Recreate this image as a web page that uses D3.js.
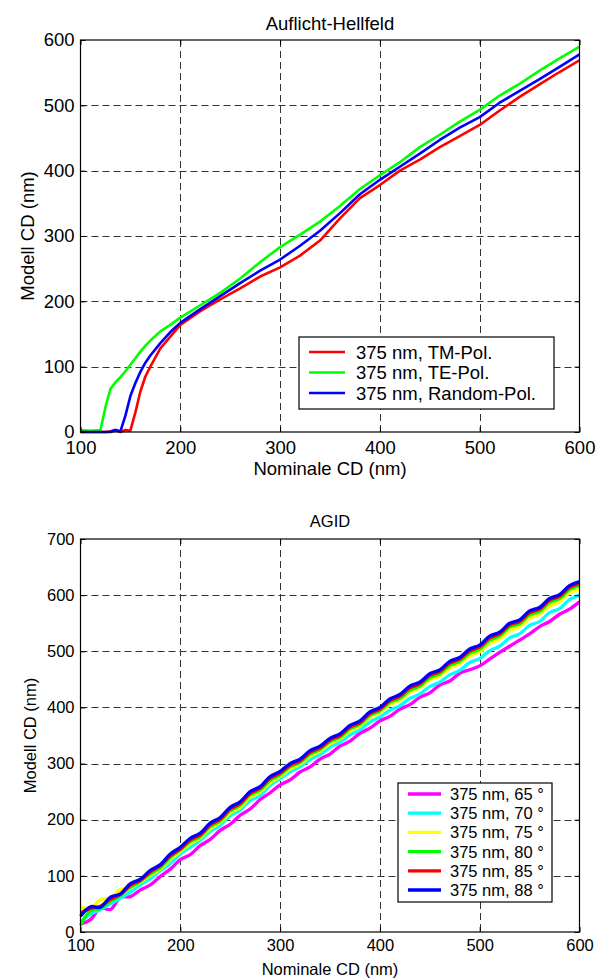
<!DOCTYPE html>
<html>
<head>
<meta charset="utf-8">
<style>
  body { margin: 0; background: #fff; }
  svg text { font-family: "Liberation Sans", Arial, sans-serif; fill: #000; }
</style>
</head>
<body>
<svg id="mysvg"></svg>
<script src="https://cdn.jsdelivr.net/npm/d3@7"></script>
<script>

// ---- data: top chart (Auflicht-Hellfeld) ----
var topX = [100,110,120,125,130,135,140,145,150,155,160,165,170,180,190,200,220,240,260,280,300,320,340,360,380,400,420,440,460,480,500,520,540,560,580,600];
var topTM = [0,0,0,0,1,3,0,3,2,30,62,85,100,128,146,164,185,203,220,238,252,270,293,327,358,378,400,417,436,453,470,492,513,532,551,569];
var topTE = [3,2,3,38,66,76,84,93,103,113,123,132,140,154,164,175,194,213,235,260,283,302,322,346,372,393,413,436,455,475,493,515,533,553,572,590];
var topRandom = [0,0,0,0,0,3,1,25,55,75,92,106,117,136,153,167,188,208,228,247,264,285,308,335,364,386,406,426,447,466,482,504,522,540,559,578];
var topLabels = ["375 nm, TM-Pol.", "375 nm, TE-Pol.", "375 nm, Random-Pol."];
var topColors = ["#ff0000", "#00ff00", "#0000ff"];

// ---- data: bottom chart (AGID), one value every 10 nm from 100 to 600 ----
var agidX = [100,110,120,130,140,150,160,170,180,190,200,210,220,230,240,250,260,270,280,290,300,310,320,330,340,350,360,370,380,390,400,410,420,430,440,450,460,470,480,490,500,510,520,530,540,550,560,570,580,590,600];
var agid65 = [14,22,43,40,62,63,75,84,99,112,129,138,154,165,181,192,208,219,236,248,262,271,285,294,308,317,331,340,354,363,376,384,397,405,418,426,440,447,461,467,474,486,498,509,520,531,544,553,566,575,588];
var agid70 = [18,32,40,50,60,71,84,95,109,122,139,151,163,179,190,207,217,234,243,261,273,285,294,307,316,329,338,351,360,374,383,395,403,416,424,437,445,458,466,480,487,501,509,524,531,546,553,569,576,592,600];
var agid75 = [45,42,58,60,76,79,89,101,112,129,143,157,167,184,195,212,222,240,249,266,277,290,299,313,322,335,344,358,367,382,391,405,413,427,435,449,456,470,478,492,499,514,522,537,544,559,566,581,588,604,611];
var agid80 = [12,38,42,55,65,80,90,104,115,133,146,161,170,188,198,216,226,244,253,270,280,294,302,317,325,339,347,362,370,386,394,409,416,431,438,453,460,475,482,497,504,520,527,543,549,565,571,587,594,610,617];
var agid85 = [34,42,46,58,67,83,92,107,118,136,148,164,173,191,201,219,229,247,256,274,283,297,305,320,328,342,350,365,373,389,397,412,420,435,442,457,464,479,486,501,508,524,531,547,553,569,575,591,598,614,621];
var agid88 = [28,45,44,62,68,86,94,110,120,139,151,167,176,194,204,222,232,250,259,277,286,300,308,323,331,345,353,368,376,392,400,415,423,438,445,460,467,482,489,504,511,527,534,550,556,572,578,594,601,617,624];
var agidLabels = ["375 nm, 65 °", "375 nm, 70 °", "375 nm, 75 °", "375 nm, 80 °", "375 nm, 85 °", "375 nm, 88 °"];
var agidColors = ["#ff00ff", "#00ffff", "#ffff00", "#00ff00", "#ff0000", "#0000ff"];

var xTicks = [100,200,300,400,500,600];
var topYTicks = [0,100,200,300,400,500,600];
var agidYTicks = [0,100,200,300,400,500,600,700];

var W = 604, H = 979;
var svg = d3.select("#mysvg").attr("width", W).attr("height", H);

function drawPanel(opt) {
  var x = d3.scaleLinear().domain([100, 600]).range([opt.left, opt.right]);
  var y = d3.scaleLinear().domain(opt.yDomain).range([opt.bottom, opt.top]);
  var g = svg.append("g");

  // dashed grid
  g.append("g").selectAll("line").data(xTicks.slice(1, -1)).enter().append("line")
    .attr("x1", function(d){ return Math.round(x(d)) + 0.5; })
    .attr("x2", function(d){ return Math.round(x(d)) + 0.5; })
    .attr("y1", opt.top).attr("y2", opt.bottom)
    .attr("stroke", "#333").attr("stroke-dasharray", "7,4");
  g.append("g").selectAll("line").data(opt.yTicks.slice(1, -1)).enter().append("line")
    .attr("y1", function(d){ return Math.round(y(d)) + 0.5; })
    .attr("y2", function(d){ return Math.round(y(d)) + 0.5; })
    .attr("x1", opt.left).attr("x2", opt.right)
    .attr("stroke", "#333").attr("stroke-dasharray", "7,4");

  // curves
  var line = d3.line()
    .x(function(d){ return x(d[0]); })
    .y(function(d){ return y(d[1]); })
    .curve(opt.curve);
  opt.series.forEach(function(s, i) {
    g.append("path")
      .datum(opt.xs.map(function(v, j){ return [v, s[j]]; }))
      .attr("fill", "none")
      .attr("stroke", opt.colors[i])
      .attr("stroke-width", opt.lineWidth)
      .attr("stroke-linejoin", "round")
      .attr("d", line);
  });

  // axes, ticks pointing inwards on all four sides
  var fs = opt.fontSize + "px";
  g.append("g").attr("transform", "translate(0," + opt.bottom + ")")
    .call(d3.axisBottom(x).tickValues(xTicks).tickSize(-5).tickSizeOuter(0).tickPadding(opt.xPad))
    .call(function(a){ a.select(".domain").remove(); a.selectAll("text").style("font-size", fs); });
  g.append("g").attr("transform", "translate(0," + opt.top + ")")
    .call(d3.axisTop(x).tickValues(xTicks).tickSize(-5).tickSizeOuter(0).tickFormat(""))
    .call(function(a){ a.select(".domain").remove(); });
  g.append("g").attr("transform", "translate(" + opt.left + ",0)")
    .call(d3.axisLeft(y).tickValues(opt.yTicks).tickSize(-5).tickSizeOuter(0).tickPadding(opt.yPad))
    .call(function(a){ a.select(".domain").remove(); a.selectAll("text").style("font-size", fs); });
  g.append("g").attr("transform", "translate(" + opt.right + ",0)")
    .call(d3.axisRight(y).tickValues(opt.yTicks).tickSize(-5).tickSizeOuter(0).tickFormat(""))
    .call(function(a){ a.select(".domain").remove(); });

  g.append("rect")
    .attr("x", opt.left).attr("y", opt.top)
    .attr("width", opt.right - opt.left).attr("height", opt.bottom - opt.top)
    .attr("fill", "none").attr("stroke", "#000").attr("stroke-width", 1.2);

  // titles
  g.append("text").attr("x", 330).attr("y", opt.titleY)
    .attr("text-anchor", "middle").style("font-size", fs).text(opt.title);
  g.append("text").attr("x", 330).attr("y", opt.xLabelY)
    .attr("text-anchor", "middle").style("font-size", fs).text("Nominale CD (nm)");
  g.append("text")
    .attr("transform", "translate(" + opt.yLabelX + "," + ((opt.top + opt.bottom) / 2) + ") rotate(-90)")
    .attr("text-anchor", "middle").style("font-size", fs).text("Modell CD (nm)");

  // legend
  var L = opt.legend;
  var lg = g.append("g");
  lg.append("rect").attr("x", L.x).attr("y", L.y).attr("width", L.w).attr("height", L.h)
    .attr("fill", "#fff").attr("stroke", "#000").attr("stroke-width", 1.2);
  opt.labels.forEach(function(t, i) {
    var cy = L.y + L.first + i * L.step;
    lg.append("line").attr("x1", L.x + 10).attr("x2", L.x + 10 + L.sample)
      .attr("y1", cy).attr("y2", cy)
      .attr("stroke", opt.colors[i]).attr("stroke-width", opt.lineWidth);
    lg.append("text").attr("x", L.x + L.textOff).attr("y", cy)
      .attr("dy", "0.36em").style("font-size", fs).text(t);
  });
}

drawPanel({
  left: 80.5, right: 579.5, top: 40, bottom: 432,
  yDomain: [0, 600], yTicks: topYTicks,
  xs: topX, series: [topTM, topTE, topRandom], colors: topColors, labels: topLabels,
  curve: d3.curveLinear, lineWidth: 2.6, fontSize: 18.5,
  xPad: 9, yPad: 6,
  title: "Auflicht-Hellfeld", titleY: 30, xLabelY: 475, yLabelX: 34,
  legend: { x: 299, y: 337, w: 255, h: 72, first: 15, step: 20.5, sample: 36, textOff: 57 }
});

drawPanel({
  left: 80.5, right: 579.5, top: 539, bottom: 932,
  yDomain: [0, 700], yTicks: agidYTicks,
  xs: agidX, series: [agid65, agid70, agid75, agid80, agid85, agid88], colors: agidColors, labels: agidLabels,
  curve: d3.curveCatmullRom, lineWidth: 3.3, fontSize: 16.5,
  xPad: 7, yPad: 6,
  title: "AGID", titleY: 527, xLabelY: 975, yLabelX: 36,
  legend: { x: 398, y: 783, w: 154, h: 119, first: 11, step: 19.2, sample: 33, textOff: 52 }
});

</script>
</body>
</html>
